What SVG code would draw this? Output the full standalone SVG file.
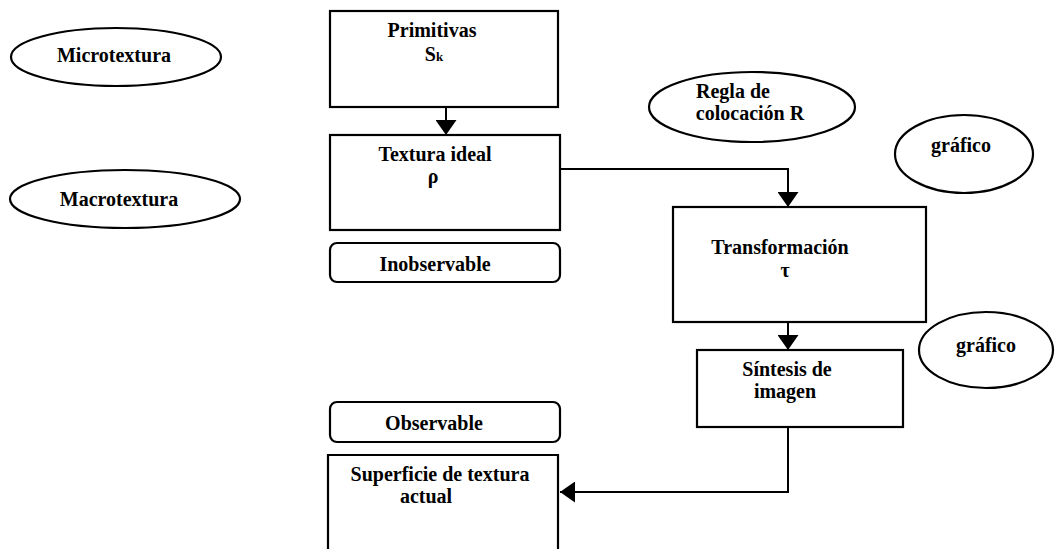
<svg xmlns="http://www.w3.org/2000/svg" width="1055" height="549" viewBox="0 0 1055 549">
<defs>
<marker id="ah" viewBox="0 0 15 21" refX="15" refY="10.5" markerWidth="15" markerHeight="21" markerUnits="userSpaceOnUse" orient="auto">
<path d="M0,0 L15,10.5 L0,21 Z" fill="#000"/>
</marker>
</defs>
<style>
.b{fill:none;stroke:#000;stroke-width:2.2}
.t{font-family:"Liberation Serif","Times New Roman",serif;font-weight:bold;font-size:20px;fill:#000;text-anchor:middle}
.c{fill:none;stroke:#000;stroke-width:2}
</style>
<rect width="1055" height="549" fill="#fff"/>
<g id="microtextura"><ellipse class="b" cx="116" cy="57" rx="105" ry="29"/><text class="t" x="114" y="62">Microtextura</text></g>
<g id="macrotextura"><ellipse class="b" cx="125" cy="199" rx="115" ry="29"/><text class="t" x="119" y="206">Macrotextura</text></g>
<g id="primitivas"><rect class="b" x="330" y="11" width="228" height="96"/><text class="t" x="432" y="37">Primitivas</text><text class="t" x="434" y="61">S<tspan font-size="13">k</tspan></text></g>
<g id="textura-ideal"><rect class="b" x="330" y="135" width="230" height="95"/><text class="t" x="435" y="161">Textura ideal</text><text class="t" x="433" y="183">ρ</text></g>
<g id="inobservable"><rect class="b" x="330" y="243" width="230" height="39" rx="7"/><text class="t" x="435" y="271">Inobservable</text></g>
<g id="regla"><ellipse class="b" cx="752" cy="107" rx="103" ry="35"/><text class="t" x="733" y="98">Regla de</text><text class="t" x="750" y="120">colocación R</text></g>
<g id="grafico1"><ellipse class="b" cx="964" cy="154" rx="69" ry="39"/><text class="t" x="961" y="152">gráfico</text></g>
<g id="transformacion"><rect class="b" x="673" y="207" width="253" height="115"/><text class="t" x="780" y="254">Transformación</text><text class="t" x="785" y="277">τ</text></g>
<g id="sintesis"><rect class="b" x="697" y="350" width="206" height="77"/><text class="t" x="787" y="376">Síntesis  de</text><text class="t" x="785" y="398">imagen</text></g>
<g id="grafico2"><ellipse class="b" cx="986" cy="350" rx="67" ry="38"/><text class="t" x="986" y="352">gráfico</text></g>
<g id="observable"><rect class="b" x="330" y="402" width="230" height="40" rx="7"/><text class="t" x="434" y="430">Observable</text></g>
<g id="superficie"><path class="b" d="M328,551 V455 H558 V551"/><text class="t" x="440" y="481">Superficie de textura</text><text class="t" x="426" y="503">actual</text></g>
<g id="connectors">
<path class="c" d="M446,107 V135" marker-end="url(#ah)"/>
<path class="c" d="M560,169 H788 V207" marker-end="url(#ah)"/>
<path class="c" d="M788,322 V350" marker-end="url(#ah)"/>
<path class="c" d="M788,427 V492 H560" marker-end="url(#ah)"/>
</g>
</svg>
